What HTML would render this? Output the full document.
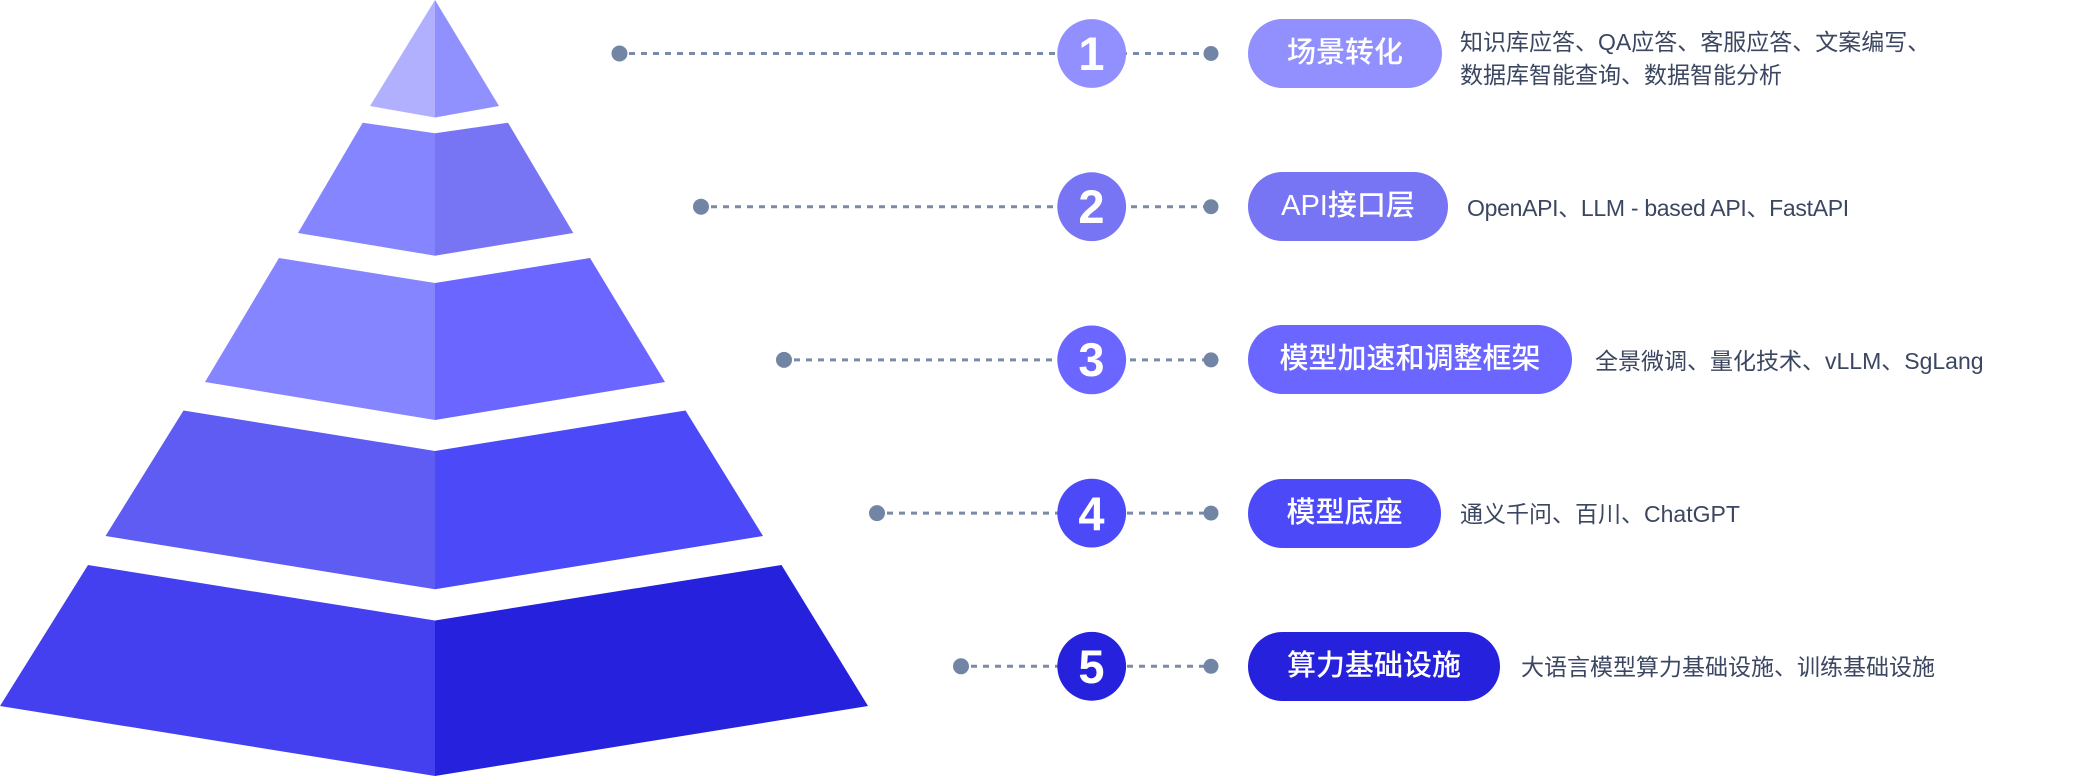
<!DOCTYPE html>
<html>
<head>
<meta charset="utf-8">
<style>
  html,body{margin:0;padding:0;background:#fff;}
  body{width:2073px;height:776px;position:relative;overflow:hidden;}
  svg{position:absolute;left:0;top:0;}
  .num{position:absolute;width:69px;height:69px;line-height:69px;text-align:center;color:#fff;
       font-family:"Liberation Sans",sans-serif;font-weight:700;font-size:47px;}
  .pill{position:absolute;height:69px;line-height:69px;border-radius:35px;text-align:center;color:#fff;
       font-family:"Liberation Sans","Noto Sans CJK SC",sans-serif;font-size:29px;font-weight:500;white-space:nowrap;}
  .desc{position:absolute;height:32px;line-height:32px;color:#3b4660;white-space:nowrap;
       font-family:"Liberation Sans","Noto Sans CJK SC",sans-serif;font-size:23px;}
</style>
</head>
<body>
<svg width="2073" height="776" viewBox="0 0 2073 776" xmlns="http://www.w3.org/2000/svg">
  <!-- Tier 1 -->
  <polygon points="435,0 435,117.5 370,106" fill="#b0b0ff"/>
  <polygon points="435,0 499,106 435,117.5" fill="#9090ff"/>
  <!-- Tier 2 -->
  <polygon points="362.7,122.7 435,133.3 435,255.7 298,233" fill="#8585ff"/>
  <polygon points="435,133.3 508,122.7 573.3,233 435,255.7" fill="#7875f5"/>
  <!-- Tier 3 -->
  <polygon points="279,258 435,283 435,420 205,382" fill="#8585ff"/>
  <polygon points="435,283 590,258 665,382 435,420" fill="#6a66ff"/>
  <!-- Tier 4 -->
  <polygon points="183.5,410.5 435,451 435,589.3 105.5,536" fill="#5f5cf3"/>
  <polygon points="435,451 685.5,410.5 763,536 435,589.3" fill="#4c4af8"/>
  <!-- Tier 5 -->
  <polygon points="88,565 435,620.5 435,776 0,706" fill="#4440ef"/>
  <polygon points="435,620.5 781.5,565 868,706 435,776" fill="#2621dc"/>

  <!-- connectors -->
  <g stroke="#7a8aa8" stroke-width="3" stroke-dasharray="6 6" fill="none">
    <line x1="629" y1="53.5" x2="1205" y2="53.5"/>
    <line x1="711" y1="206.7" x2="1205" y2="206.7"/>
    <line x1="794" y1="359.9" x2="1205" y2="359.9"/>
    <line x1="887" y1="513.1" x2="1205" y2="513.1"/>
    <line x1="971" y1="666.3" x2="1205" y2="666.3"/>
  </g>
  <g fill="#7385a5">
    <circle cx="619.5" cy="53.5" r="8"/>
    <circle cx="701" cy="206.7" r="8"/>
    <circle cx="784" cy="359.9" r="8"/>
    <circle cx="877" cy="513.1" r="8"/>
    <circle cx="961" cy="666.3" r="8"/>
    <circle cx="1211" cy="53.5" r="7.5"/>
    <circle cx="1211" cy="206.7" r="7.5"/>
    <circle cx="1211" cy="359.9" r="7.5"/>
    <circle cx="1211" cy="513.1" r="7.5"/>
    <circle cx="1211" cy="666.3" r="7.5"/>
  </g>
  <!-- number circles -->
  <circle cx="1091.7" cy="53.5" r="34.4" fill="#9290ff"/>
  <circle cx="1091.7" cy="206.7" r="34.4" fill="#7875f5"/>
  <circle cx="1091.7" cy="359.9" r="34.4" fill="#6a66ff"/>
  <circle cx="1091.7" cy="513.1" r="34.4" fill="#4c4af8"/>
  <circle cx="1091.7" cy="666.3" r="34.4" fill="#2621dc"/>
</svg>

<div class="num" style="left:1057px;top:19px;">1</div>
<div class="num" style="left:1057px;top:172px;">2</div>
<div class="num" style="left:1057px;top:325px;">3</div>
<div class="num" style="left:1057px;top:479px;">4</div>
<div class="num" style="left:1057px;top:632px;">5</div>

<div class="pill" style="left:1248px;top:19px;width:194px;background:#9290ff;">场景转化</div>
<div class="pill" style="left:1248px;top:172px;width:200px;background:#7875f5;">API接口层</div>
<div class="pill" style="left:1248px;top:325px;width:324px;background:#6a66ff;">模型加速和调整框架</div>
<div class="pill" style="left:1248px;top:479px;width:193px;background:#4c4af8;">模型底座</div>
<div class="pill" style="left:1248px;top:632px;width:252px;background:#2621dc;">算力基础设施</div>

<div class="desc" style="left:1460px;top:26px;">知识库应答、QA应答、客服应答、文案编写、</div>
<div class="desc" style="left:1460px;top:59px;">数据库智能查询、数据智能分析</div>
<div class="desc" style="left:1467px;top:192px;letter-spacing:-0.3px;">OpenAPI、LLM - based API、FastAPI</div>
<div class="desc" style="left:1595px;top:345px;">全景微调、量化技术、vLLM、SgLang</div>
<div class="desc" style="left:1460px;top:498px;">通义千问、百川、ChatGPT</div>
<div class="desc" style="left:1521px;top:651px;">大语言模型算力基础设施、训练基础设施</div>
</body>
</html>
